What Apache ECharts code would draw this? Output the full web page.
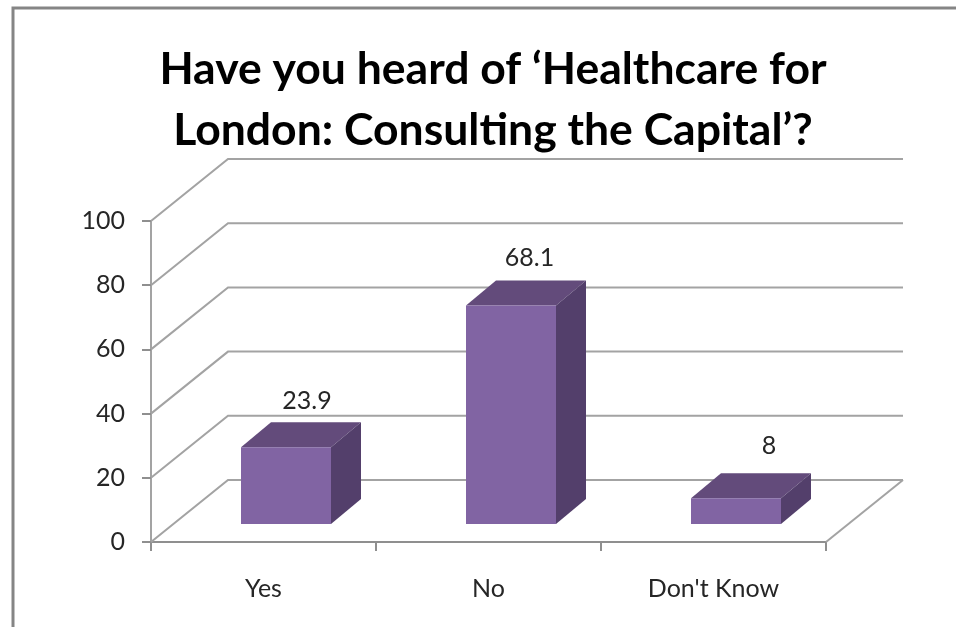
<!DOCTYPE html>
<html>
<head>
<meta charset="utf-8">
<style>html,body{margin:0;padding:0;background:#fff}#c{width:956px;height:627px}</style>
<script src="https://cdn.jsdelivr.net/npm/echarts@6/dist/echarts.min.js"></script>
</head>
<body>
<div id="c"></div>
<script>
const titleLines = ["Have you heard of ‘Healthcare for", "London: Consulting the Capital’?"];
const categories = ["Yes", "No", "Don't Know"];
const values = [23.9, 68.1, 8];
const yTicks = [0, 20, 40, 60, 80, 100];

// 3D look of the chart (pixels)
const wallDX = 77, wallDY = -62;
const barShiftX = 22.5, barShiftY = -18, barDX = 30, barDY = -25;
const barWidth = 90;
const labelNudge = [[6, -21], [3.5, -22], [18, -27]];
const font = "Lato, Carlito, 'Open Sans', sans-serif";

const chart = echarts.init(document.getElementById('c'), null, {renderer: 'canvas'});
const gridStyle = {stroke: '#a3a3a3', lineWidth: 2, fill: null};

chart.setOption({
  animation: false,
  backgroundColor: '#fff',
  title: {
    text: titleLines.join('\n'),
    left: 488, top: 34, textAlign: 'center',
    textStyle: {fontFamily: font, fontSize: 44.5, fontWeight: 'bold', color: '#000', lineHeight: 61}
  },
  grid: {left: 151, top: 221, width: 675, height: 321},
  xAxis: {
    type: 'category', data: categories,
    axisLine: {lineStyle: {color: '#8f8f8f', width: 2}},
    axisTick: {show: true, length: 9, alignWithLabel: false, lineStyle: {color: '#8f8f8f', width: 2}},
    axisLabel: {fontFamily: font, fontSize: 25, color: '#262626', margin: 34, interval: 0}
  },
  yAxis: {
    type: 'value', min: 0, max: 100, interval: 20,
    axisLine: {show: true, lineStyle: {color: '#a3a3a3', width: 2}},
    axisTick: {show: true, length: 9, lineStyle: {color: '#8f8f8f', width: 2}},
    axisLabel: {fontFamily: font, fontSize: 25, color: '#262626', margin: 26},
    splitLine: {show: false}
  },
  graphic: [{
    type: 'polyline', silent: true, z: 10,
    shape: {points: [[13, 627], [13, 8], [956, 8]]},
    style: {stroke: '#858585', lineWidth: 3, fill: null}
  }],
  series: [{
    type: 'custom', silent: true, z: 1,
    data: yTicks.map(v => [0, v]),
    clip: false,
    renderItem(params, api) {
      const p = api.coord([0, api.value(1)]);
      const band = api.size([1, 0])[0];
      const x0 = p[0] - band / 2, y = p[1];
      const x1 = x0 + band * categories.length;
      const children = [{
        type: 'polyline',
        shape: {points: [[x0, y], [x0 + wallDX, y + wallDY], [x1 + wallDX, y + wallDY]]},
        style: gridStyle
      }];
      if (api.value(1) === 0) {
        children.push({
          type: 'polyline',
          shape: {points: [[x1, y], [x1 + wallDX, y + wallDY]]},
          style: gridStyle
        });
      }
      return {type: 'group', children};
    }
  }, {
    type: 'custom', silent: true, z: 3,
    data: values.map((v, i) => [i, v]),
    clip: false,
    renderItem(params, api) {
      const i = params.dataIndex;
      const top = api.coord([api.value(0), api.value(1)]);
      const base = api.coord([api.value(0), 0]);
      const xl = top[0] + barShiftX - barWidth / 2, xr = xl + barWidth;
      const yt = top[1] + barShiftY, yb = base[1] + barShiftY;
      const poly = (points, fill) => ({type: 'polygon', shape: {points}, style: {fill, stroke: null}});
      return {type: 'group', children: [
        poly([[xl, yt], [xl + barDX, yt + barDY], [xr + barDX, yt + barDY], [xr, yt]], '#634b7b'),
        poly([[xr, yt], [xr + barDX, yt + barDY], [xr + barDX, yb + barDY], [xr, yb]], '#533f6b'),
        poly([[xl, yt], [xr, yt], [xr, yb], [xl, yb]], '#8164a3'),
        {type: 'text', style: {
          text: String(values[i]),
          x: xr + barDX + labelNudge[i][0] - (barWidth + barDX) / 2,
          y: yt + barDY + labelNudge[i][1],
          align: 'center', verticalAlign: 'middle',
          font: '25px ' + font, fill: '#262626'
        }}
      ]};
    }
  }]
});
</script>
</body>
</html>
